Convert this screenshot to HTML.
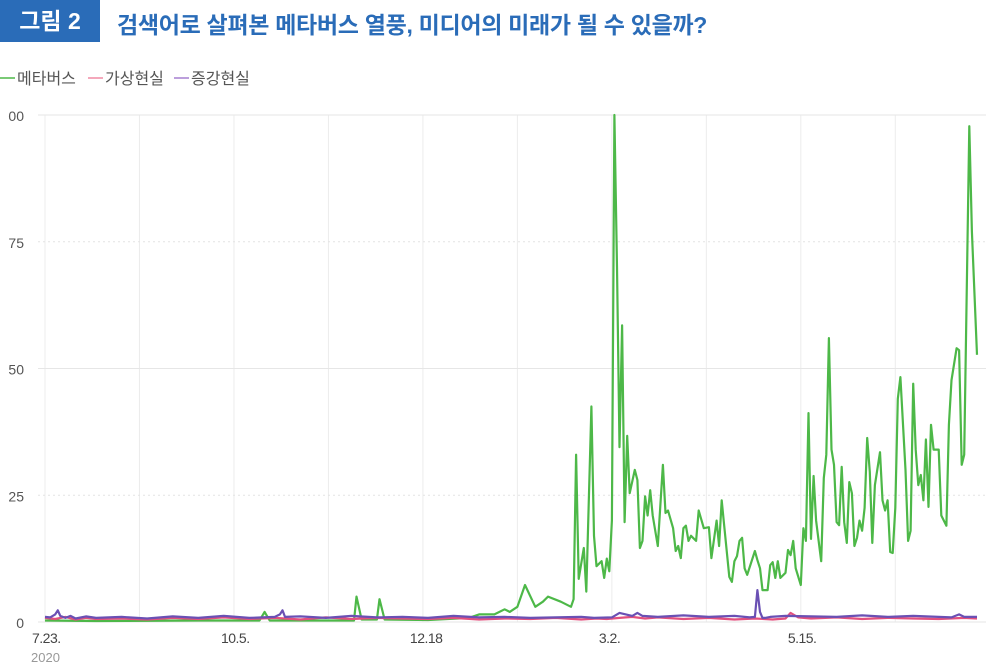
<!DOCTYPE html>
<html><head><meta charset="utf-8">
<style>
html,body{margin:0;padding:0;background:#fff;}
body{width:1000px;height:670px;position:relative;overflow:hidden;font-family:"Liberation Sans","Noto Sans CJK KR",sans-serif;}
#badge{position:absolute;left:0;top:0;width:100px;height:42px;background:#2a6cb8;color:#fff;font-size:23px;font-weight:bold;line-height:42px;text-align:center;}
#title{position:absolute;left:117px;top:6px;font-size:23px;font-weight:bold;color:#2a6cb8;white-space:nowrap;letter-spacing:-0.3px;}
svg{position:absolute;left:0;top:0;}
</style></head><body>
<div id="badge">그림 2</div>
<div id="title">검색어로 살펴본 메타버스 열풍, 미디어의 미래가 될 수 있을까?</div>
<svg id="chart" width="1000" height="670"></svg>
<script>
const xTickLabels=["7.23.","10.5.","12.18","3.2.","5.15."];
const xTickDays=[0,74,148,222,296];
const yTicks=[0,25,50,75,100];
const yTickLabels=["0","25","50","75","100"];
const seriesNames=["메타버스","가상현실","증강현실"];
const greenDays=[0,20,60,84,86,88,110,121,122,124,130,131,133,150,166,170,176,180,182,185,188,192,195,197,202,206,207,208,209,211,212,214,215,216,218,219,220,221,222,223,224,225,226,227,228,229,231,232,233,234,235,236,237,238,240,242,243,244,246,247,248,249,250,251,252,253,255,256,258,260,261,263,264,265,266,268,269,270,271,272,273,274,275,278,279,280,281,283,284,285,286,287,288,290,291,292,293,294,296,297,298,299,300,301,302,304,305,306,307,308,309,310,311,312,313,314,315,316,317,318,319,320,321,322,323,324,325,327,328,329,330,331,332,333,334,335,337,338,339,340,341,342,343,344,345,346,347,348,350,351,353,354,355,357,358,359,360,362,363,365];
const greenVals=[0.3,0.2,0.3,0.3,2,0.3,0.3,0.3,5,0.5,0.5,4.5,0.5,0.4,0.8,1.5,1.5,2.5,2,3,7.3,3,4,5,4,3,4.5,33,8.5,14.6,6,42.5,17,11,12,8.7,12.5,10,20,100,70,34.5,58.5,19.7,36.7,25.4,30,28,14.6,16,24.8,21,26,21,15,31,21.5,22,18.5,14,15,12.6,18.5,19,16,17,16,22,18.5,18.7,12.6,20,15,24,19,8.9,7.9,12,13,16,16.6,10.6,9.3,14,12.2,10.6,6.3,6.3,11.2,11.8,8.7,12,8.7,9.7,14.2,13.2,16,10.6,7.3,18.5,16,41.2,16.4,28.8,20,12,28.4,33,56,34,31,19.7,19.1,30.6,19.7,15.6,27.6,25.4,15,16.6,20,18,22.5,36.3,29.6,15.6,27,33.5,24,22,24,13.8,13.6,22.5,44,48.3,30,16,18,47,34,27,29,24,36,22.7,38.9,34,34,21,19,38.9,47.7,54,53.6,31,33,97.8,77,52.7];
const pinkDays=[0,4,8,12,16,20,30,40,50,60,70,80,90,100,110,120,130,140,150,160,170,180,190,200,210,216,220,225,230,235,240,250,260,270,278,285,290,292,295,300,310,320,330,340,350,360,365];
const pinkVals=[0.8,0.6,1,0.5,0.8,0.6,0.7,0.5,0.8,0.6,0.9,0.6,0.8,0.5,0.9,0.6,0.8,0.7,0.6,0.8,0.5,0.7,0.6,0.8,0.5,0.7,0.6,0.8,1,0.7,0.9,0.6,0.8,0.5,0.7,0.5,0.7,1.8,0.9,0.7,0.9,0.6,0.8,0.7,0.6,0.8,0.7];
const purpleDays=[0,2,4,5,6,8,10,12,16,20,30,40,50,60,70,80,90,92,93,94,100,110,120,130,140,150,160,170,180,190,200,210,215,222,225,230,232,234,240,250,260,270,276,278,279,280,281,282,284,290,300,310,320,330,340,350,355,358,360,365];
const purpleVals=[1,0.9,1.5,2.3,1.2,0.8,1.2,0.7,1.1,0.8,1,0.7,1.1,0.8,1.2,0.8,1,1.5,2.3,1,1.1,0.8,1.2,0.9,1,0.8,1.2,0.9,1,0.8,0.9,1,0.8,0.9,1.8,1.2,1.8,1.2,1,1.3,1,1.2,0.9,1,6.3,2,0.8,0.8,1,1.2,1.1,1,1.3,1,1.2,1,0.9,1.5,1,1];
const X0=45,X1=977,DAYS=365,Y0=622,Y100=115;
const xs=d=>X0+(X1-X0)*d/DAYS;
const ys=v=>Y0-(Y0-Y100)*v/100;
const NS="http://www.w3.org/2000/svg";
const svg=document.getElementById('chart');
function mk(t,a){const e=document.createElementNS(NS,t);for(const k in a)e.setAttribute(k,a[k]);svg.appendChild(e);return e;}
const defs=mk('defs',{});
const cp=document.createElementNS(NS,'clipPath');cp.setAttribute('id','yc');
const cr=document.createElementNS(NS,'rect');cr.setAttribute('x',8);cr.setAttribute('y',0);cr.setAttribute('width',992);cr.setAttribute('height',670);
cp.appendChild(cr);defs.appendChild(cp);
// vertical grid every 37 days
for(let k=0;k<=9;k++){const x=xs(k*37);
const g=mk('line',{x1:x,x2:x,y1:Y100,y2:Y0,stroke:'#ececec','stroke-width':1});

}
yTicks.forEach((t,i)=>{const y=ys(t);
const g=mk('line',{x1:38,x2:986,y1:y,y2:y,stroke:(t%50===0)?'#e6e6e6':'#e3e3e3','stroke-width':1,'stroke-dasharray':(t%50===0)?'none':'2 3'});


const tx=mk('text',{x:24,y:y+6,'text-anchor':'end','font-size':14,fill:'#555','clip-path':'url(#yc)'});
tx.textContent=yTickLabels[i];

});
xTickLabels.forEach((l,i)=>{const tx=mk('text',{x:xs(xTickDays[i])-13,y:643,'font-size':14,fill:'#444','letter-spacing':'-0.5'});
tx.textContent=l;

});
const yr=mk('text',{x:31,y:662,'font-size':13,fill:'#999'});yr.textContent='2020';


function line(days,vals,color,name){const p=days.map((d,i)=>xs(d).toFixed(1)+','+ys(vals[i]).toFixed(1)).join(' ');
const e=mk('polyline',{points:p,fill:'none',stroke:color,'stroke-width':2.2,'stroke-linejoin':'round'});

}
line(greenDays,greenVals,'#4db848','series-metaverse');
line(pinkDays,pinkVals,'#e2507e','series-virtual-reality');
line(purpleDays,purpleVals,'#6a50b4','series-augmented-reality');
// legend
const lc=['#4db848','#f08aa4','#a57fd0'];const lx=[0,88,174];
seriesNames.forEach((n,i)=>{
const l=mk('line',{x1:lx[i],x2:lx[i]+15,y1:78,y2:78,stroke:lc[i],'stroke-width':1.5});


const t=mk('text',{x:lx[i]+17,y:84,'font-size':16,fill:'#555'});t.textContent=n;

});
</script>
</body></html>
